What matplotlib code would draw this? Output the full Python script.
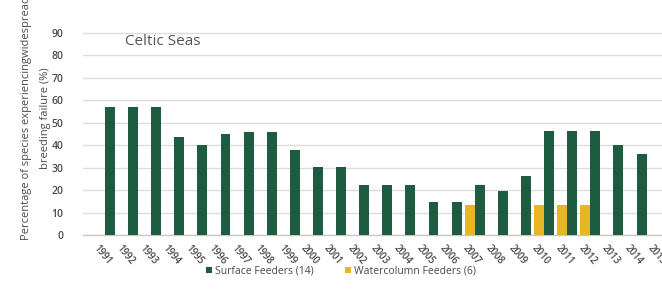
import matplotlib
matplotlib.use("Agg")
import matplotlib.pyplot as plt
import numpy as np

years = [str(y) for y in range(1991, 2016)]
surface = [57, 57, 57, 43.5, 40, 45, 46, 46, 38, 30.5, 30.5, 22.5, 22.5, 22.5,
           14.5, 14.5, 22.5, 19.5, 26.5, 46.5, 46.5, 46.5, 40, 36, np.nan]
watercolumn = [0, 0, 0, 0, 0, 0, 0, 0, 0, 0, 0, 0, 0, 0,
               0, 0, 13.5, 0, 0, 13.5, 13.5, 13.5, 0, 0, np.nan]
yticks = [0, 10, 20, 30, 40, 50, 60, 70, 80, 90]

GREEN = "#1e5c41"
YELLOW = "#e8b523"
TEXT = "#4a4a4a"

plt.rcParams["font.family"] = ["Open Sans", "DejaVu Sans"]

W, H = 662, 291
fig = plt.figure(figsize=(W / 100, H / 100), dpi=100)
# plot area: x from 83px to right edge, y=0 at 235px, y=100 at ~10.6px
ax = fig.add_axes([83 / W, 1 - 235 / H, 1 - 83 / W, 224.4 / H])

x = np.arange(len(years))
w = 0.43
ax.bar(x + w / 2, surface, width=w, color=GREEN, label="Surface Feeders (14)", zorder=3)
ax.bar(x - w / 2, watercolumn, width=w, color=YELLOW, label="Watercolumn Feeders (6)", zorder=3)

ax.set_xlim(-0.95, 24.1)
ax.set_ylim(0, 100)
ax.set_yticks(yticks)
ax.set_yticklabels([str(v) for v in yticks], fontsize=7.5, color=TEXT,
                   fontweight="semibold")
ax.set_xticks(x - 0.13)
ax.set_xticklabels(years, rotation=-50, ha="center", va="top", fontsize=7,
                   color=TEXT, fontweight="semibold")
ax.tick_params(axis="both", length=0)
ax.tick_params(axis="y", pad=14)
ax.tick_params(axis="x", pad=6)

ax.grid(axis="y", color="#dcdcdc", linewidth=1, zorder=0)
for s in ["top", "right", "left"]:
    ax.spines[s].set_visible(False)
ax.spines["bottom"].set_color("#c8c8c8")
ax.spines["bottom"].set_linewidth(1)

fig.text(125 / W, 1 - 42 / H, "Celtic Seas", fontsize=11, color="#555555",
         ha="left", va="center")

fig.text(36 / W, 1 - 118 / H,
         "Percentage of species experiencingwidespread\nbreeding failure (%)",
         rotation=90, ha="center", va="center", multialignment="center",
         fontsize=8, color=TEXT, linespacing=2.0)

fig.legend(loc="center", bbox_to_anchor=(341 / W, 1 - 271 / H), ncol=2,
           frameon=False, fontsize=7.5, handlelength=0.6, handleheight=0.6,
           handletextpad=0.3, columnspacing=3.0, labelcolor=TEXT)

fig.savefig("out.png", dpi=100)
